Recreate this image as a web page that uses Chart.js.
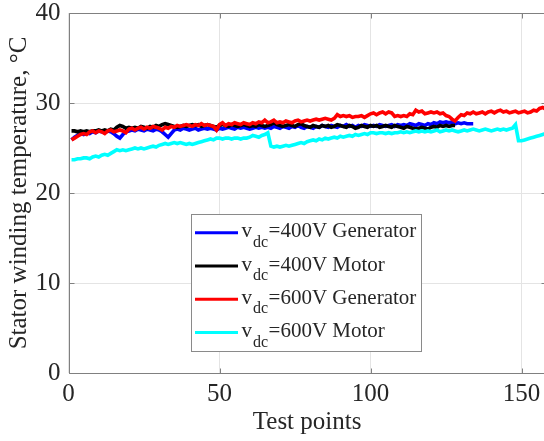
<!DOCTYPE html>
<html>
<head>
<meta charset="utf-8">
<script src="https://cdn.jsdelivr.net/npm/chart.js@4.4.1/dist/chart.umd.min.js"></script>
<style>
html,body{margin:0;padding:0;background:#fff;overflow:hidden;}
#wrap{width:548px;height:441px;}
</style>
</head>
<body>
<div id="wrap"><canvas id="c" width="548" height="441"></canvas></div>
<script>
// ---- data (x = test point index starting at 1) ----
const seriesNames = ["=400V Generator", "=400V Motor", "=600V Generator", "=600V Motor"];
const xTickValues = [0, 50, 100, 150];
const yTickValues = [0, 10, 20, 30, 40];

const gen400 = [
 25.9,26.2,26.4,26.6,26.5, 26.7,26.6,26.8,26.7,26.9, 26.8,26.7,26.9,26.8,26.6, 26.3,26.1,26.5,26.8,26.9,
 27.0,26.9,27.1,27.0,26.9, 27.1,27.0,26.9,27.1,27.0, 26.8,26.5,26.2,26.6,27.0, 27.1,27.0,27.2,27.1,27.0,
 27.1,27.2,27.0,27.1,27.2, 27.1,27.2,27.1,27.0,27.2, 27.1,27.2,27.3,27.2,27.1, 27.3,27.2,27.3,27.2,27.1,
 27.2,27.3,27.2,27.3,27.2, 27.3,27.2,27.4,27.3,27.2, 27.4,27.3,27.2,27.4,27.3, 27.5,27.3,27.2,27.4,27.3,
 27.2,27.4,27.3,27.5,27.4, 27.3,27.5,27.4,27.3,27.5, 27.4,27.6,27.4,27.5,27.3, 27.5,27.4,27.6,27.5,27.4,
 27.5,27.4,27.6,27.5,27.4, 27.5,27.6,27.4,27.6,27.5, 27.6,27.5,27.7,27.6,27.5, 27.7,27.6,27.5,27.7,27.6,
 27.8,27.7,27.9,27.8,27.9, 27.8,27.9,27.7,27.8,27.7, 27.8,27.7,27.7,27.7
];
const mot400 = [
 26.9,26.9,26.8,26.9,26.8, 26.9,26.8,26.9,26.9,27.0, 26.9,27.0,26.9,27.1,27.0, 27.3,27.5,27.4,27.2,27.3,
 27.2,27.3,27.2,27.4,27.3, 27.2,27.4,27.3,27.5,27.4, 27.6,27.7,27.6,27.5,27.4, 27.3,27.4,27.5,27.4,27.5,
 27.6,27.5,27.6,27.4,27.5, 27.6,27.5,27.4,27.3,27.5, 27.6,27.5,27.4,27.6,27.5, 27.4,27.5,27.6,27.5,27.4,
 27.5,27.4,27.6,27.5,27.4, 27.5,27.6,27.8,27.6,27.5, 27.4,27.5,27.6,27.5,27.4, 27.6,27.7,27.5,27.4,27.3,
 27.5,27.4,27.3,27.5,27.4, 27.5,27.3,27.4,27.6,27.5, 27.4,27.3,27.5,27.4,27.2, 27.3,27.5,27.4,27.3,27.5,
 27.4,27.5,27.3,27.4,27.5, 27.4,27.3,27.5,27.4,27.3, 27.2,27.4,27.3,27.2,27.1, 27.2,27.3,27.2,27.1,27.3,
 27.4,27.3,27.5,27.4,27.5, 27.4,27.5,27.5
];
const gen600 = [
 25.9,26.1,26.3,26.5,26.6, 26.5,26.8,26.9,26.7,26.9, 26.8,26.6,26.9,27.0,26.8, 26.9,27.0,26.9,26.7,27.1,
 27.2,27.0,27.2,27.3,27.1, 27.3,27.2,27.4,27.3,27.2, 27.0,27.3,27.2,27.4,27.3, 27.5,27.4,27.5,27.6,27.5,
 27.4,27.6,27.5,27.7,27.5, 27.6,27.5,27.4,27.0,27.6, 27.8,27.5,27.7,27.6,27.8, 27.7,27.6,27.8,27.7,27.6,
 27.8,27.7,27.9,27.8,28.1, 27.8,27.9,28.1,27.8,27.9, 27.8,28.0,27.9,27.8,28.0, 28.1,27.9,28.0,28.1,28.0,
 28.1,28.2,28.1,28.2,28.3, 28.2,28.1,28.3,28.7,28.5, 28.6,28.5,28.6,28.4,28.5, 28.5,28.6,28.4,28.6,28.8,
 28.9,28.7,28.9,29.0,28.8, 29.0,28.9,28.5,28.6,28.5, 28.6,28.5,28.8,28.7,29.2, 29.0,29.1,28.8,28.9,29.0,
 28.9,29.0,28.8,28.9,28.6, 28.5,28.2,28.0,28.4,28.7, 28.6,28.9,28.8,29.0,28.8, 28.9,29.0,28.8,29.0,29.1,
 28.9,29.1,29.2,29.0,29.1, 28.9,29.0,29.1,28.9,29.0, 29.1,28.9,29.0,29.2,29.1, 29.4,29.5,29.3
];
const mot600 = [
 23.7,23.7,23.8,23.8,23.9, 23.9,23.8,24.0,24.1,24.0, 24.2,24.3,24.2,24.4,24.6, 24.8,24.7,24.8,24.7,24.8,
 24.9,25.0,24.9,25.0,24.9, 25.0,25.1,25.2,25.1,25.3, 25.4,25.5,25.4,25.5,25.6, 25.5,25.6,25.5,25.4,25.5,
 25.4,25.5,25.6,25.7,25.8, 25.9,26.0,25.9,26.1,26.1, 26.0,26.1,26.1,26.0,26.1, 26.1,26.0,26.1,26.1,26.2,
 26.4,26.3,26.2,26.4,26.5, 26.7,25.2,25.1,25.2,25.1, 25.2,25.3,25.2,25.3,25.4, 25.5,25.6,25.5,25.7,25.8,
 25.9,25.8,26.0,25.9,26.1, 26.0,26.1,26.2,26.1,26.3, 26.2,26.3,26.4,26.3,26.5, 26.4,26.5,26.6,26.5,26.7,
 26.7,26.6,26.7,26.7,26.6, 26.7,26.6,26.7,26.7,26.8, 26.7,26.8,26.7,26.8,26.9, 26.8,26.9,26.8,26.9,26.8,
 26.9,27.0,26.8,26.9,27.0, 26.9,27.0,26.9,26.8,26.9, 27.0,26.9,27.0,27.1,27.0, 26.9,27.0,27.1,27.0,26.9,
 27.0,27.1,27.0,27.1,27.0, 27.1,27.2,27.6,25.8,25.8, 25.9,26.0,26.1,26.2,26.3, 26.4,26.5,26.6
];

const toPts = arr => arr.map((v, i) => ({x: i + 1, y: v}));
const FONT = "'Liberation Serif', 'Times New Roman', serif";
const TXT = '#262626';
const AXC = '#808080';
Chart.defaults.font.family = FONT;

const boxPlugin = {
  id: 'matlabBox',
  afterDatasetsDraw(chart) {
    const {ctx, chartArea: a, scales: {x, y}} = chart;
    ctx.save();
    ctx.strokeStyle = AXC;
    ctx.lineWidth = 1;
    const L = Math.round(a.left) + 0.5, R = Math.round(a.right) + 0.5;
    const T = Math.round(a.top) + 0.5, B = Math.round(a.bottom) + 0.5;
    ctx.beginPath();
    ctx.moveTo(L, T); ctx.lineTo(R, T); ctx.lineTo(R, B); ctx.lineTo(L, B); ctx.closePath();
    const tl = 5;
    xTickValues.forEach(v => {
      const px = Math.round(x.getPixelForValue(v)) + 0.5;
      ctx.moveTo(px, B); ctx.lineTo(px, B - tl);
      ctx.moveTo(px, T); ctx.lineTo(px, T + tl);
    });
    yTickValues.forEach(v => {
      const py = Math.round(y.getPixelForValue(v)) + 0.5;
      ctx.moveTo(L, py); ctx.lineTo(L + tl, py);
      ctx.moveTo(R, py); ctx.lineTo(R - tl, py);
    });
    ctx.stroke();
    ctx.restore();
  },
  afterDraw(chart) {
    const {ctx} = chart;
    const bx = 191.5, by = 214.5, bw = 230, bh = 137;
    ctx.save();
    ctx.fillStyle = '#fff';
    ctx.fillRect(bx, by, bw, bh);
    ctx.strokeStyle = '#8a8a8a';
    ctx.lineWidth = 1;
    ctx.strokeRect(bx, by, bw, bh);
    const ds = chart.data.datasets;
    for (let i = 0; i < ds.length; i++) {
      const ly = 232.7 + i * 33.3;
      ctx.strokeStyle = ds[i].borderColor;
      ctx.lineWidth = 3;
      ctx.beginPath();
      ctx.moveTo(195, ly); ctx.lineTo(238, ly);
      ctx.stroke();
      const base = 237.3 + i * 33.3;
      ctx.fillStyle = TXT;
      ctx.textBaseline = 'alphabetic';
      ctx.textAlign = 'left';
      ctx.font = '21px ' + FONT;
      let tx = 241.5;
      ctx.fillText('v', tx, base);
      tx += ctx.measureText('v').width + 1;
      ctx.font = '16px ' + FONT;
      ctx.fillText('dc', tx, base + 9.5);
      tx += ctx.measureText('dc').width + 0.5;
      ctx.font = '21px ' + FONT;
      ctx.fillText(ds[i].label, tx, base);
    }
    ctx.restore();
  }
};

const mk = (label, arr, color, order) => ({
  label, data: toPts(arr), borderColor: color, backgroundColor: color,
  borderWidth: 3.6, pointRadius: 0, tension: 0, order, fill: false
});

new Chart(document.getElementById('c'), {
  type: 'line',
  data: {
    datasets: [
      mk(seriesNames[0], gen400, '#0000ff', 4),
      mk(seriesNames[1], mot400, '#000000', 3),
      mk(seriesNames[2], gen600, '#ff0000', 2),
      mk(seriesNames[3], mot600, '#00ffff', 1)
    ]
  },
  options: {
    responsive: false,
    animation: false,
    devicePixelRatio: 1,
    layout: {padding: {left: 0, right: 2.3, top: 13, bottom: 0}},
    plugins: {legend: {display: false}, tooltip: {enabled: false}},
    scales: {
      x: {
        type: 'linear', min: 0, max: 158,
        afterBuildTicks: s => { s.ticks = xTickValues.map(v => ({value: v})); },
        afterFit: s => { s.height = 68; s.paddingLeft = 0; s.paddingRight = 0; },
        grid: {color: '#e4e4e4', drawTicks: false},
        border: {display: false},
        ticks: {color: TXT, font: {family: FONT, size: 25}, padding: 6, maxRotation: 0},
        title: {display: true, text: 'Test points', color: TXT, font: {family: FONT, size: 25}, padding: {top: 0, bottom: 4}}
      },
      y: {
        type: 'linear', min: 0, max: 40,
        afterBuildTicks: s => { s.ticks = yTickValues.map(v => ({value: v})); },
        afterFit: s => { s.width = 68.5; s.paddingTop = 0; s.paddingBottom = 0; },
        grid: {color: '#e4e4e4', drawTicks: false},
        border: {display: false},
        ticks: {color: TXT, font: {family: FONT, size: 25}, padding: 8},
        title: {display: true, text: 'Stator winding temperature, \u00B0C', color: TXT, font: {family: FONT, size: 25}, padding: {top: 4, bottom: 0}}
      }
    }
  },
  plugins: [boxPlugin]
});
</script>
</body>
</html>
